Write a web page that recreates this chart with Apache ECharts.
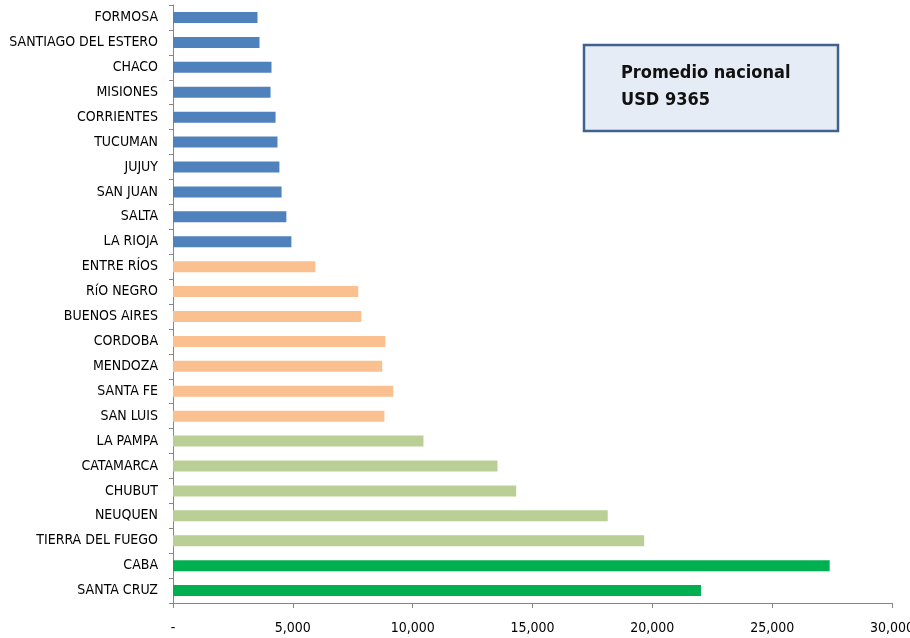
<!DOCTYPE html>
<html>
<head>
<meta charset="utf-8">
<script src="https://cdn.jsdelivr.net/npm/echarts@6/dist/echarts.min.js"></script>
<style>
html,body{margin:0;padding:0;background:#fff;}
#chart{width:910px;height:638px;}
</style>
</head>
<body>
<div id="chart"></div>
<script>
const categories = ["FORMOSA","SANTIAGO DEL ESTERO","CHACO","MISIONES","CORRIENTES","TUCUMAN","JUJUY","SAN JUAN","SALTA","LA RIOJA","ENTRE RÍOS","RíO NEGRO","BUENOS AIRES","CORDOBA","MENDOZA","SANTA FE","SAN LUIS","LA PAMPA","CATAMARCA","CHUBUT","NEUQUEN","TIERRA DEL FUEGO","CABA","SANTA CRUZ"];
const values = [3525,3610,4110,4070,4280,4360,4440,4530,4730,4940,5940,7730,7860,8860,8730,9190,8820,10450,13540,14320,18140,19660,27400,22030];
const groups = [0,0,0,0,0,0,0,0,0,0,1,1,1,1,1,1,1,2,2,2,2,2,3,3];
const groupColors = ["#4F81BD","#FAC090","#BACF96","#00B050"];
const xTicks = [0,5000,10000,15000,20000,25000,30000];
const boxLines = ["Promedio nacional","USD 9365"];

const FONT = "'DejaVu Sans Condensed','Liberation Sans',sans-serif";
const chart = echarts.init(document.getElementById('chart'));
chart.setOption({
  animation:false,
  grid:{left:173,right:18,top:5,bottom:35,containLabel:false,outerBoundsMode:'none'},
  xAxis:{
    type:'value',min:xTicks[0],max:xTicks[xTicks.length-1],interval:5000,
    axisLine:{show:true,lineStyle:{color:'#868686',width:1}},
    axisTick:{show:true,length:5,lineStyle:{color:'#868686'}},
    splitLine:{show:false},
    axisLabel:{margin:18,color:'#000',fontFamily:FONT,fontSize:14,
      formatter:function(v){return v===0?'-':v.toLocaleString('en-US');}}
  },
  yAxis:{
    type:'category',data:categories,inverse:true,
    axisLine:{show:true,lineStyle:{color:'#868686',width:1}},
    axisTick:{show:true,length:4,lineStyle:{color:'#868686'}},
    axisLabel:{margin:15,color:'#000',fontFamily:FONT,fontSize:14}
  },
  series:[{
    type:'bar',
    barWidth:11,
    data:values.map(function(v,i){return {value:v,itemStyle:{color:groupColors[groups[i]]}};})
  }],
  graphic:[
    {type:'rect',shape:{x:584,y:45,width:254,height:86},
     style:{fill:'#E6ECF5',stroke:'#3F6190',lineWidth:2.5}},
    {type:'text',left:621,top:60,
     style:{text:boxLines.join('\n'),fill:'#111',font:"bold 18px "+FONT,lineHeight:27}}
  ]
});
</script>
</body>
</html>
